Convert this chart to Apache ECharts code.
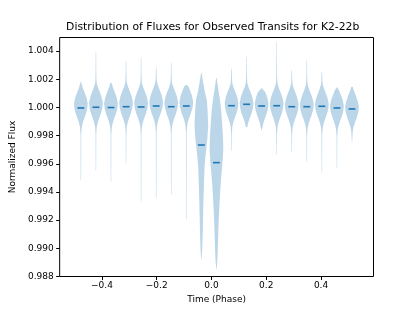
<!DOCTYPE html>
<html><head><meta charset="utf-8">
<script src="https://cdn.jsdelivr.net/npm/echarts@6/dist/echarts.min.js"></script>
<style>html,body{margin:0;padding:0;background:#fff}#c{width:415px;height:311px}</style>
</head><body><div id="c"></div>
<script>
// ---- data ----
const positions = [-0.477,-0.422,-0.367,-0.312,-0.257,-0.202,-0.147,-0.092,-0.037,0.018,0.073,0.128,0.183,0.238,0.293,0.348,0.403,0.458,0.513];
const means = [0.99996,1.00001,0.99999,1.00005,1.00003,1.00010,1.00005,1.00010,0.99733,0.99608,1.00012,1.00022,1.00010,1.00012,1.00005,1.00005,1.00008,0.99996,0.99989];
const modes = [1.00026,1.00031,1.00029,1.00035,1.00033,1.00040,1.00035,1.00040,null,null,1.00032,1.00032,1.00028,1.00030,1.00022,1.00022,1.00024,1.00012,1.00004];
const mins  = [0.99480,0.99551,0.99469,0.99599,0.99329,0.99353,0.99377,0.99204,0.98923,0.98852,0.99689,0.99859,0.99835,0.99665,0.99677,0.99613,0.99535,0.99565,0.99748];
const maxs  = [1.00185,1.00398,1.00178,1.00334,1.00355,1.00289,1.00322,1.00161,1.00246,1.00211,1.00280,1.00362,1.00138,1.00469,1.00267,1.00338,1.00256,1.00145,1.00145];
// shared shape of an out-of-transit violin: offsets from the mode and relative width
const normalOffsets = [0.0022,0.0017,0.0014,0.0011,0.0008,0.0004,0,-0.0004,-0.0008,-0.0011,-0.0014,-0.0017,-0.0022];
const normalWidths  = [0.05,0.07,0.12,0.30,0.55,0.84,1.0,0.92,0.68,0.45,0.25,0.12,0.05];
const tailWidth = 0.035;
// in-transit violins (index 8 and 9): flux levels and relative widths
const transitALevels = [1.00246,1.00175,1.00104,1.00057,0.99987,0.99868,0.99774,0.99733,0.99655,0.99584,0.99466,0.99348,0.99230,0.99111,0.98994,0.98923];
const transitAWidths = [0.03,0.27,0.53,0.77,0.90,1.0,0.87,0.77,0.60,0.47,0.38,0.31,0.25,0.20,0.12,0.03];
const transitBLevels = [1.00211,1.00128,1.00057,0.99987,0.99892,0.99797,0.99703,0.99606,0.99537,0.99466,0.99348,0.99230,0.99111,0.98994,0.98923,0.98852];
const transitBWidths = [0.03,0.27,0.50,0.68,0.82,0.95,1.0,0.88,0.75,0.63,0.48,0.36,0.27,0.20,0.14,0.03];
const xTicks = [-0.4,-0.2,0.0,0.2,0.4];
const yTicks = [0.988,0.990,0.992,0.994,0.996,0.998,1.000,1.002,1.004];

const violinWidth = 0.05;
const transitProfiles = {8:[transitALevels,transitAWidths],9:[transitBLevels,transitBWidths]};

function profile(i){
  if (transitProfiles[i]) {
    const [lv, wd] = transitProfiles[i];
    return lv.map((f,k)=>[f, wd[k]]);
  }
  const pts = [[maxs[i], 0.005]];
  const topT = modes[i] + normalOffsets[0];
  if (maxs[i] - 0.00008 > topT) pts.push([maxs[i]-0.00008, tailWidth]);
  for (let k=0;k<normalOffsets.length;k++){
    const f = modes[i] + normalOffsets[k];
    if (f < maxs[i] && f > mins[i]) pts.push([f, normalWidths[k]]);
  }
  const botT = modes[i] + normalOffsets[normalOffsets.length-1];
  if (mins[i] + 0.00008 < botT) pts.push([mins[i]+0.00008, tailWidth]);
  pts.push([mins[i], 0.005]);
  return pts;
}

const font = 'DejaVu Sans';
const chart = echarts.init(document.getElementById('c'), null, {renderer:'canvas'});
chart.setOption({
  animation:false,
  backgroundColor:'#fff',
  title:{text:'Distribution of Fluxes for Observed Transits for K2-22b', left:212.7, top:22, textAlign:'center', padding:0,
    textStyle:{fontSize:10.8, fontWeight:'normal', color:'#000', fontFamily:font}},
  grid:{left:51.5, top:37.5, width:322, height:239, show:true, borderColor:'#000', borderWidth:1, containLabel:false},
  xAxis:{type:'value', min:-0.5544, max:0.5915,
    name:'Time (Phase)', nameLocation:'middle', nameGap:16, nameTextStyle:{fontSize:9, color:'#000', fontFamily:font},
    axisLine:{show:false, onZero:false}, splitLine:{show:false},
    axisTick:{show:true, length:3.5, customValues:xTicks, lineStyle:{color:'#000', width:1}},
    axisLabel:{customValues:xTicks, margin:5, fontSize:9, color:'#000', fontFamily:font,
      formatter:v=>(v<0?'\u2212':'')+Math.abs(v).toFixed(1)}},
  yAxis:{type:'value', min:0.988, max:1.00496,
    name:'Normalized Flux', nameLocation:'middle', nameGap:36, nameTextStyle:{fontSize:9, color:'#000', fontFamily:font},
    axisLine:{show:false, onZero:false}, splitLine:{show:false},
    axisTick:{show:true, length:3.5, customValues:yTicks, lineStyle:{color:'#000', width:1}},
    axisLabel:{customValues:yTicks, margin:6, fontSize:9, color:'#000', fontFamily:font, formatter:v=>v.toFixed(3)}},
  series:[{
    type:'custom',
    data: positions.map((p,i)=>[p, means[i], i]),
    encode:{x:0, y:1},
    renderItem:function(params, api){
      const i = api.value(2);
      const pos = positions[i];
      const prof = profile(i);
      const right = prof.map(([f,r])=>api.coord([pos + r*violinWidth/2, f]));
      const left = prof.slice().reverse().map(([f,r])=>api.coord([pos - r*violinWidth/2, f]));
      const a = api.coord([pos - violinWidth/4, means[i]]);
      const b = api.coord([pos + violinWidth/4, means[i]]);
      return {type:'group', children:[
        {type:'polygon', shape:{points:right.concat(left)}, style:{fill:'rgba(31,119,180,0.3)', stroke:null}},
        {type:'line', shape:{x1:a[0], y1:a[1], x2:b[0], y2:b[1]}, style:{stroke:'#1f77b4', lineWidth:1.6}}
      ]};
    }
  }]
});
</script>
</body></html>
